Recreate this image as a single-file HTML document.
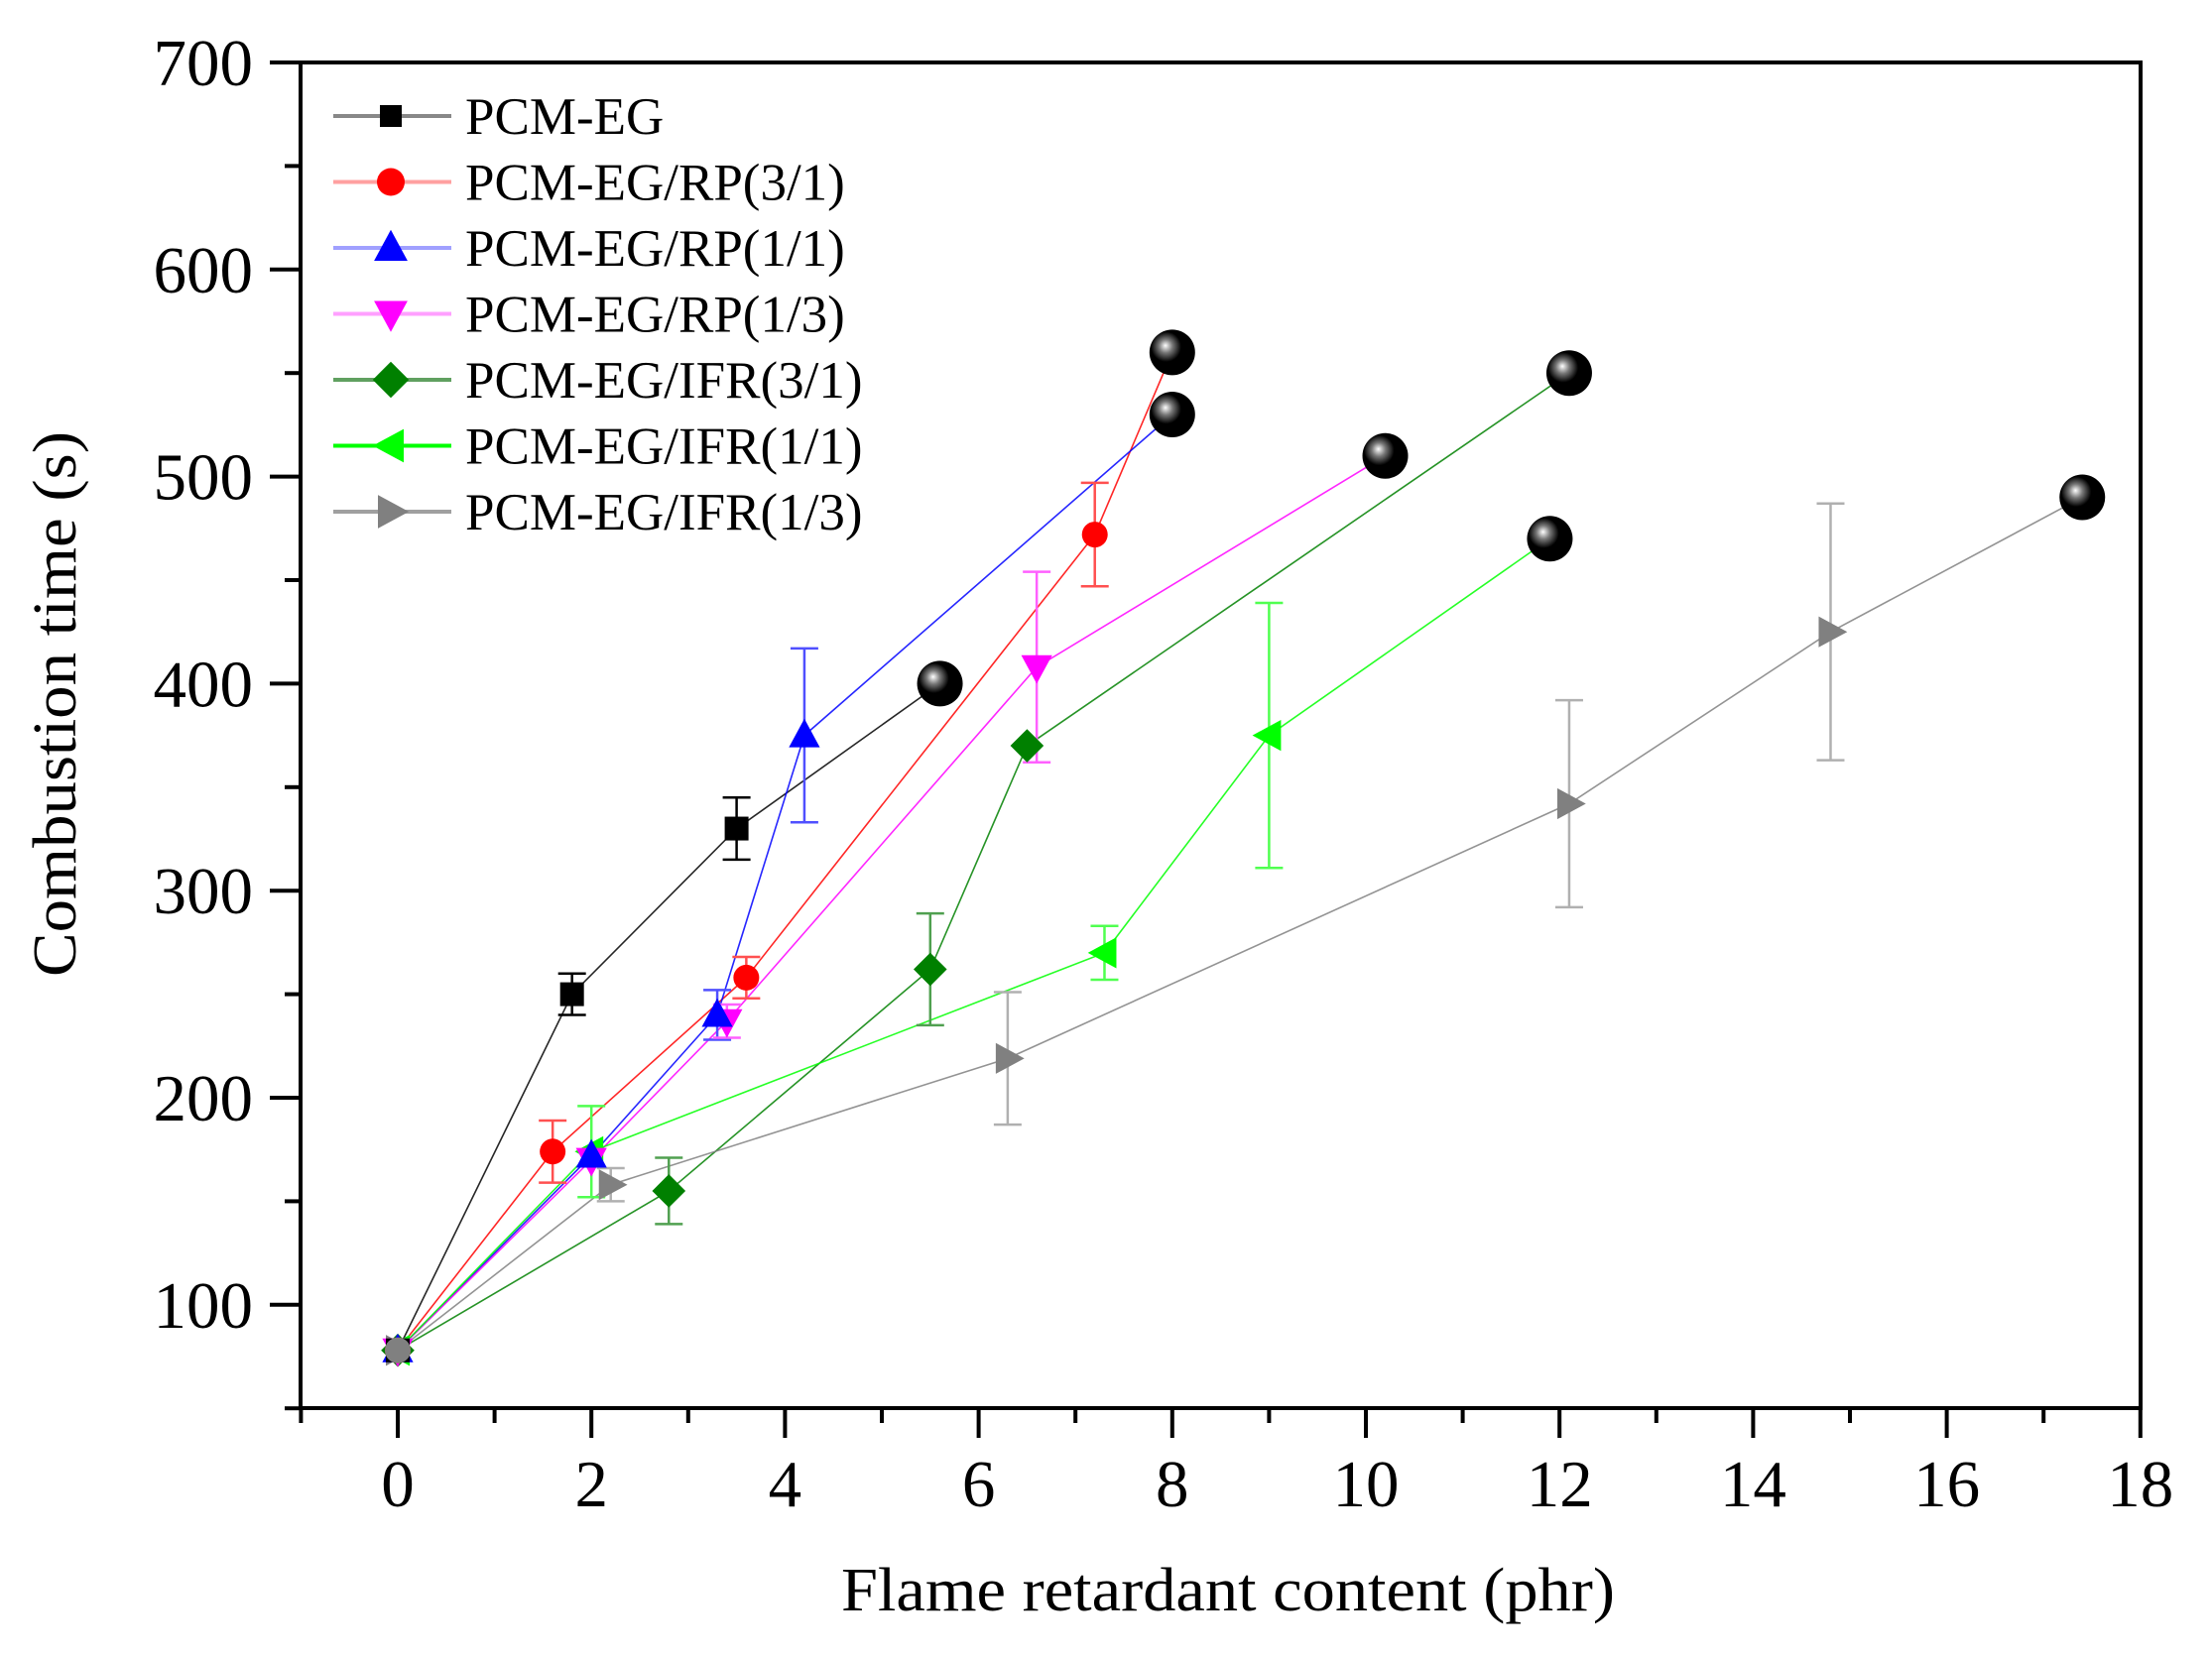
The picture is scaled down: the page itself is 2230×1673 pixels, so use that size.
<!DOCTYPE html>
<html><head><meta charset="utf-8"><style>html,body{margin:0;padding:0;background:#fff;}svg{display:block;}</style></head>
<body>
<svg id="s" width="2230" height="1673" viewBox="0 0 2230 1673" xmlns="http://www.w3.org/2000/svg" font-family="Liberation Serif, serif">
<defs>
<radialGradient id="ball" cx="0.38" cy="0.4" r="0.6" fx="0.35" fy="0.35">
<stop offset="0" stop-color="#fff"/><stop offset="0.25" stop-color="#777"/><stop offset="0.55" stop-color="#000"/><stop offset="1" stop-color="#000"/>
</radialGradient>
</defs>
<g id="plot"></g>
<rect x="303" y="63" width="1855" height="1357" fill="none" stroke="#000" stroke-width="4"/>
<g id="ticks" stroke="#000" stroke-width="4"></g>
<g id="labels" font-size="67" fill="#000"></g>
<text x="1238" y="1624" font-size="62" text-anchor="middle" textLength="780" lengthAdjust="spacingAndGlyphs">Flame retardant content (phr)</text>
<text transform="translate(76,710) rotate(-90)" font-size="62" text-anchor="middle" textLength="550" lengthAdjust="spacingAndGlyphs">Combustion time (s)</text>
<g id="legend" font-size="53"></g>
</svg>
<script>
const X=u=>401+u*97.6, Y=v=>63+(700-v)*2.088;
const NS="http://www.w3.org/2000/svg";
function el(p,t,a,txt){const e=document.createElementNS(NS,t);for(const k in a)e.setAttribute(k,a[k]);if(txt!==undefined)e.textContent=txt;p.appendChild(e);return e;}
const plot=document.getElementById('plot'),ticks=document.getElementById('ticks'),labels=document.getElementById('labels'),leg=document.getElementById('legend');
for(let v=50;v<=700;v+=50){const maj=v%100==0;el(ticks,'line',{x1:303-(maj?31:16),x2:303,y1:Y(v),y2:Y(v)});
 if(maj)el(labels,'text',{x:255,y:Y(v)+23,'text-anchor':'end'},String(v));}
for(let u=-1;u<=18;u++){const maj=u%2==0;el(ticks,'line',{x1:X(u),x2:X(u),y1:1420,y2:1420+(maj?30:15)});
 if(maj)el(labels,'text',{x:X(u),y:1519,'text-anchor':'middle'},String(u));}
const S=[
 {c:'#000',e:'#000',m:'sq',p:[[0,78],[1.8,250,10],[3.5,330,15]],b:[5.6,400]},
 {c:'#ff0000',e:'#ff5050',m:'ci',p:[[0,78],[1.6,174,15],[3.6,258,10],[7.2,472,25]],b:[8,560]},
 {c:'#0000ff',e:'#5050ff',m:'up',p:[[0,78],[2,172],[3.3,240,12],[4.2,375,42]],b:[8,530]},
 {c:'#ff00ff',e:'#ff60ff',m:'dn',p:[[0,78],[2,170],[3.4,237,8],[6.6,408,46]],b:[10.2,510]},
 {c:'#008000',e:'#50a050',m:'di',p:[[0,78],[2.8,155,16],[5.5,262,27],[6.5,370]],b:[12.1,550]},
 {c:'#00ff00',e:'#50ff50',m:'lt',p:[[0,78],[2,174,22],[7.3,270,13],[9,375,64]],b:[11.9,470]},
 {c:'#808080',e:'#b0b0b0',m:'rt',p:[[0,78],[2.2,158,8],[6.3,219,32],[12.1,342,50],[14.8,425,62]],b:[17.4,490]}
];
function marker(g,m,x,y,c,r){r=r||12;
 if(m=='sq')el(g,'rect',{x:x-r,y:y-r,width:2*r,height:2*r,fill:c});
 else if(m=='ci')el(g,'circle',{cx:x,cy:y,r:r+1,fill:c});
 else{let pts;
  if(m=='up')pts=[[x,y-r*1.4],[x-r*1.3,y+r],[x+r*1.3,y+r]];
  if(m=='dn')pts=[[x,y+r*1.4],[x-r*1.3,y-r],[x+r*1.3,y-r]];
  if(m=='di')pts=[[x,y-r*1.4],[x+r*1.4,y],[x,y+r*1.4],[x-r*1.4,y]];
  if(m=='lt')pts=[[x-r*1.4,y],[x+r,y-r*1.3],[x+r,y+r*1.3]];
  if(m=='rt')pts=[[x+r*1.4,y],[x-r,y-r*1.3],[x-r,y+r*1.3]];
  el(g,'polygon',{points:pts.map(p=>p.join(',')).join(' '),fill:c});}
}
S.forEach(s=>{const pts=s.p.map(p=>[X(p[0]),Y(p[1])]);pts.push([X(s.b[0]),Y(s.b[1])]);
 el(plot,'polyline',{points:pts.map(p=>p.join(',')).join(' '),fill:'none',stroke:s.c,'stroke-width':1.6,opacity:0.85});});
S.forEach(s=>{s.p.forEach(p=>{if(p[2]){const x=X(p[0]);const y1=Y(p[1]+p[2]),y2=Y(p[1]-p[2]);
  el(plot,'line',{x1:x,x2:x,y1:y1,y2:y2,stroke:s.e,'stroke-width':2.5});
  el(plot,'line',{x1:x-14,x2:x+14,y1:y1,y2:y1,stroke:s.e,'stroke-width':2.5});
  el(plot,'line',{x1:x-14,x2:x+14,y1:y2,y2:y2,stroke:s.e,'stroke-width':2.5});}});});
S.slice().reverse().forEach(s=>{s.p.forEach(p=>marker(plot,s.m,X(p[0]),Y(p[1]),s.c));});
el(plot,'circle',{cx:X(0),cy:Y(78),r:13,fill:'#808080'});
S.forEach(s=>el(plot,'circle',{cx:X(s.b[0]),cy:Y(s.b[1]),r:23,fill:'url(#ball)'}));
const names=['PCM-EG','PCM-EG/RP(3/1)','PCM-EG/RP(1/1)','PCM-EG/RP(1/3)','PCM-EG/IFR(3/1)','PCM-EG/IFR(1/1)','PCM-EG/IFR(1/3)'];
const lc=['#888','#ffa0a0','#a0a0ff','#ffa0ff','#60a060','#00ff00','#a0a0a0'];
names.forEach((n,i)=>{const y=117+i*66.5;
 el(leg,'line',{x1:336,x2:455,y1:y,y2:y,stroke:lc[i],'stroke-width':4});
 marker(leg,S[i].m,394,y,S[i].c,S[i].m=='sq'?11:13);
 el(leg,'text',{x:469,y:y+18,fill:'#000'},n);});
</script>
</body></html>
